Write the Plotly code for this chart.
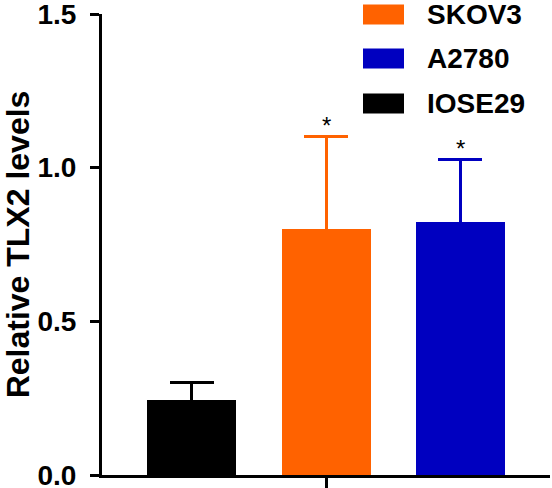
import plotly.graph_objects as go

categories = ["IOSE29", "SKOV3", "A2780"]
means = [0.244, 0.802, 0.822]
errors = [0.056, 0.300, 0.205]
colors = ["#000000", "#FF6200", "#0000C0"]
significance = ["", "*", "*"]
legend_order = ["SKOV3", "A2780", "IOSE29"]
y_ticks = [0.0, 0.5, 1.0, 1.5]
y_tick_labels = ["0.0", "0.5", "1.0", "1.5"]
y_title = "Relative TLX2 levels"

FONT = "Liberation Sans, Arial, sans-serif"

fig = go.Figure()
for cat, m, e, c in zip(categories, means, errors, colors):
    fig.add_trace(go.Bar(
        x=[cat], y=[m], name=cat, marker=dict(color=c, line=dict(width=0)),
        width=0.663, showlegend=False,
        error_y=dict(type="data", array=[e], symmetric=True,
                     color=c, thickness=3, width=22),
    ))

for cat, m, e, s in zip(categories, means, errors, significance):
    if s:
        fig.add_annotation(x=cat, y=m + e, text=s, showarrow=False,
                           yanchor="bottom", yshift=-5,
                           font=dict(family=FONT, size=24, color="black"))

# manual legend
color_of = dict(zip(categories, colors))
row_y = [14, 58, 103]
for name, yy in zip(legend_order, row_y):
    fig.add_shape(type="rect", xref="paper", yref="paper",
                  x0=(363 - 102) / 448, x1=(404 - 102) / 448,
                  y0=(475 - (yy + 10)) / 461.5, y1=(475 - (yy - 10)) / 461.5,
                  fillcolor=color_of[name], line=dict(width=0))
    fig.add_annotation(xref="paper", yref="paper", x=(425 - 102) / 448,
                       y=(475 - yy) / 461.5, text="<b>%s</b>" % name,
                       showarrow=False, xanchor="left", yanchor="middle",
                       font=dict(family=FONT, size=28, color="black"))

fig.update_layout(
    width=552, height=488,
    margin=dict(l=102, r=2, t=13.5, b=13, autoexpand=False),
    plot_bgcolor="white", paper_bgcolor="white",
    bargap=0,
    font=dict(family=FONT, color="black"),
    xaxis=dict(categoryorder="array", categoryarray=categories,
               range=[-0.67, 2.667], showline=True, linecolor="black", linewidth=3,
               ticks="outside", ticklen=11, tickwidth=3, tickcolor="black",
               tickmode="array", tickvals=[categories[1]], ticktext=[""],
               showgrid=False, zeroline=False, automargin=False),
    yaxis=dict(range=[0, 1.5], showline=True, linecolor="black", linewidth=3,
               ticks="outside", ticklen=9, tickwidth=3, tickcolor="black",
               tickmode="array", tickvals=y_ticks, ticktext=["<b>%s</b>" % t for t in y_tick_labels],
               tickfont=dict(family=FONT, size=28, color="black"),
               ticklabeloverflow="allow", ticklabelstandoff=8,
               showgrid=False, zeroline=False, automargin=False,
               title=dict(text="<b>%s</b>" % y_title, font=dict(family=FONT, size=32, color="black"),
                          standoff=14)),
)

fig.write_html(
    "out.html",
    config={"displayModeBar": False, "staticPlot": True},
    post_script="document.body.style.margin='0';document.body.style.padding='0';document.body.style.overflow='hidden';",
)
